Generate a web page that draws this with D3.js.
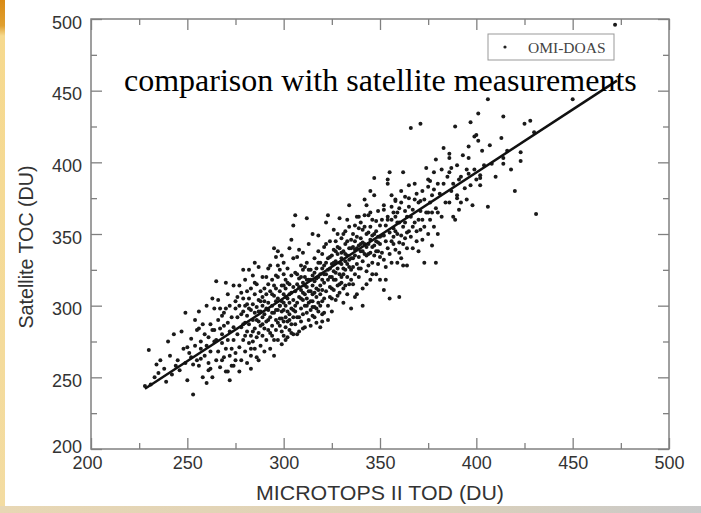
<!DOCTYPE html>
<html>
<head>
<meta charset="utf-8">
<title>Satellite vs MICROTOPS</title>
<script src="https://cdn.jsdelivr.net/npm/d3@7"></script>
<style>
  body { margin: 0; background: #fff; }
  svg { display: block; }
</style>
</head>
<body>
<svg width="701" height="513"></svg>
<script>
// tick values
const majorTicks = [200, 250, 300, 350, 400, 450, 500];
const minorTicks = [225, 275, 325, 375, 425, 475];
const legendLabel = "OMI-DOAS";
const chartTitle = "comparison with satellite measurements";
const xTitle = "MICROTOPS II TOD (DU)";
const yTitle = "Satellite TOC (DU)";

// regression line end points [TOD, TOC]
const fitLine = [[228, 242], [473, 457]];

// [MICROTOPS TOD, satellite TOC]
const points = [
  // 228-250
  [228,244],[230,269],[231,245],[233,250],[234,259],[236,262],[238,256],[240,275],[241,265],[242,252],[243,280],
  [245,262],[246,255],[247,282],[248,270],[249,295],[249,260],[250,271],[250,248],[244,258],[239,247],[235,253],
  // 250-262
  [251,267],[252,277],[253,238],[254,290],[255,262],[256,296],[256,284],[256,258],[257,275],[257,270],[258,250],
  [258,287],[259,265],[259,280],[260,272],[260,300],[261,260],[261,255],[262,287],[262,268],[253,259],[254,272],
  [255,283],[257,263],[260,246],[252,264],[261,278],[262,256],
  // 262-275
  [263,250],[263,305],[264,298],[264,275],[264,283],[265,317],[265,262],[266,268],[266,290],[267,298],[267,257],
  [268,274],[268,280],[268,262],[269,295],[269,286],[270,298],[270,270],[270,254],[271,254],[271,288],[271,276],
  [272,265],[272,300],[272,282],[273,258],[273,292],[273,270],[274,258],[274,314],[274,285],[274,276],[275,267],
  [275,298],[275,303],[275,262],[266,304],[267,284],[269,264],[270,316],[272,248],[263,283],[265,276],[268,293],
  [271,308],
  // 275-290
  [276,280],[276,292],[277,314],[277,271],[277,300],[278,309],[278,285],[278,262],[279,296],[279,276],[279,305],
  [280,288],[280,268],[280,318],[280,300],[281,282],[281,293],[281,260],[282,325],[282,305],[282,287],[282,274],
  [283,297],[283,279],[283,312],[283,265],[284,321],[284,290],[284,301],[284,282],[285,270],[285,308],[285,295],
  [285,284],[286,278],[286,315],[286,299],[286,264],[287,289],[287,304],[287,327],[287,281],[288,272],[288,296],
  [288,310],[288,286],[289,300],[289,279],[289,320],[289,292],[290,284],[290,303],[290,268],[290,312],[277,254],
  [279,325],[281,310],[283,256],[285,330],[287,262],[289,287],[276,306],[278,294],[280,279],[282,298],[284,275],
  [286,290],[288,303],[290,294],[279,287],[281,301],[283,270],[285,316],[287,296],[289,306],
  // 290-305
  [291,289],[291,308],[291,276],[291,320],[292,297],[292,283],[292,315],[292,302],[293,270],[293,292],[293,310],
  [293,328],[294,286],[294,300],[294,318],[294,279],[295,295],[295,307],[295,265],[295,340],[296,334],[296,290],
  [296,303],[296,283],[296,312],[297,338],[297,297],[297,276],[297,320],[297,305],[298,291],[298,310],[298,286],
  [298,325],[298,300],[299,282],[299,296],[299,314],[299,273],[299,303],[300,308],[300,289],[300,297],[300,322],
  [300,279],[300,330],[301,292],[301,312],[301,300],[301,285],[301,318],[302,296],[302,305],[302,278],[302,326],
  [302,289],[303,302],[303,315],[303,283],[303,294],[303,340],[304,309],[304,298],[304,346],[304,287],[304,321],
  [305,356],[305,304],[305,292],[305,313],[305,280],[305,333],[291,298],[292,326],[293,281],[294,308],[295,276],
  [296,321],[297,288],[298,300],[299,335],[300,314],[301,276],[302,316],[303,308],[304,281],[305,297],[295,314],
  [297,328],[299,291],[301,306],[303,290],[292,290],[294,295],[296,297],[300,302],
  // 305-320
  [306,363],[306,310],[306,296],[306,323],[306,287],[307,334],[307,302],[307,315],[307,292],[308,339],[308,306],
  [308,282],[308,319],[309,298],[309,328],[309,311],[309,289],[310,337],[310,304],[310,316],[310,294],[310,325],
  [311,285],[311,308],[311,300],[311,320],[312,361],[312,313],[312,295],[312,330],[312,305],[313,290],[313,318],
  [313,302],[313,343],[314,310],[314,297],[314,325],[314,286],[315,350],[315,314],[315,303],[315,321],[315,293],
  [316,309],[316,333],[316,299],[316,317],[317,306],[317,326],[317,288],[317,312],[318,349],[318,320],[318,302],
  [318,296],[318,330],[319,314],[319,308],[319,285],[319,322],[320,336],[320,303],[320,318],[320,311],[320,294],
  [306,300],[307,280],[308,313],[309,320],[310,309],[311,327],[312,318],[313,310],[314,303],[315,308],[316,323],
  [317,298],[318,311],[319,300],[320,326],[307,322],[309,305],[311,314],[313,325],[315,299],[317,319],[319,330],
  [308,292],[310,284],[312,300],[314,318],[316,292],[318,338],[320,289],
  // 320-335
  [321,341],[321,316],[321,305],[321,328],[322,343],[322,358],[322,310],[322,322],[323,363],[323,300],[323,333],
  [323,318],[324,326],[324,306],[324,345],[324,313],[325,320],[325,335],[325,296],[325,329],[326,353],[326,311],
  [326,339],[326,324],[327,318],[327,331],[327,304],[327,345],[328,350],[328,326],[328,314],[328,336],[329,361],
  [329,322],[329,309],[329,340],[330,329],[330,316],[330,347],[330,333],[331,322],[331,302],[331,338],[331,326],
  [332,343],[332,314],[332,331],[332,352],[333,360],[333,320],[333,335],[333,308],[334,370],[334,355],[334,327],
  [334,340],[335,318],[335,333],[335,346],[335,298],[321,322],[322,330],[323,325],[324,334],[325,312],[326,330],
  [327,323],[328,341],[329,330],[330,320],[331,312],[332,325],[333,329],[334,315],[335,340],[321,295],[323,290],
  [325,305],[327,338],[329,315],[331,350],[333,345],[335,325],[324,320],[326,318],[328,307],[330,337],[332,336],
  [334,332],
  // 335-350
  [336,350],[336,327],[336,341],[336,315],[337,335],[337,356],[337,322],[337,345],[338,340],[338,329],[338,362],
  [338,308],[339,354],[339,342],[339,334],[339,320],[340,347],[340,338],[340,326],[340,358],[341,331],[341,353],
  [341,312],[341,344],[342,374],[342,343],[342,363],[342,336],[343,324],[343,350],[343,335],[343,370],[344,363],
  [344,343],[344,351],[344,328],[345,380],[345,337],[345,346],[345,318],[346,349],[346,330],[346,360],[346,341],
  [347,389],[347,377],[347,342],[347,335],[348,359],[348,345],[348,322],[348,352],[349,338],[349,366],[349,329],
  [349,348],[350,343],[350,356],[350,334],[350,318],[336,333],[337,339],[338,348],[339,326],[340,343],[341,338],
  [342,355],[343,341],[344,336],[345,355],[346,322],[347,350],[348,338],[349,344],[350,348],[337,306],[339,362],
  [341,300],[343,315],[345,365],
  // 350-365
  [351,349],[351,337],[351,360],[352,370],[352,367],[352,349],[352,332],[352,311],[353,327],[353,345],[353,356],
  [354,362],[354,388],[354,385],[354,340],[354,360],[355,393],[355,305],[355,351],[355,336],[356,377],[356,360],
  [356,330],[356,345],[357,348],[357,343],[357,365],[358,374],[358,373],[358,362],[358,339],[359,358],[359,365],
  [359,350],[360,358],[360,368],[360,306],[360,344],[361,349],[361,333],[361,372],[362,343],[362,393],[362,328],
  [362,355],[363,376],[363,358],[363,347],[364,328],[364,362],[364,340],[365,375],[365,369],[365,352],[365,384],
  [366,424],[353,318],[357,354],[359,330],[361,380],[363,366],[364,351],[356,369],[358,352],[360,337],
  // 365-380
  [366,348],[366,362],[367,367],[367,355],[368,358],[368,385],[368,374],[369,345],[369,352],[370,360],[370,372],
  [370,338],[371,427],[371,353],[371,373],[371,366],[372,360],[372,346],[372,380],[373,374],[373,355],[374,396],
  [374,365],[375,388],[375,383],[375,365],[375,350],[376,387],[376,360],[376,372],[377,342],[377,377],[378,381],
  [378,355],[378,393],[379,402],[379,368],[379,330],[380,365],[380,385],[367,340],[369,378],[373,330],[377,365],
  [380,350],
  // 380-400
  [381,378],[382,395],[382,362],[383,385],[383,410],[384,372],[385,390],[386,406],[386,403],[386,393],[386,372],
  [387,396],[387,380],[388,362],[388,385],[389,425],[389,360],[390,377],[390,375],[390,398],[391,367],[391,388],
  [392,390],[392,372],[393,405],[394,382],[395,374],[395,395],[396,411],[396,403],[396,392],[397,428],[397,384],
  [398,370],[399,418],[399,395],[400,419],[400,388],
  // 400 and up
  [401,434],[401,415],[402,391],[402,389],[402,384],[403,408],[404,398],[406,444],[406,369],[407,412],[408,399],
  [410,390],[413,417],[414,403],[414,399],[414,432],[416,408],[418,395],[420,380],[423,407],[423,401],[425,427],
  [428,429],[430,421],[431,364],[450,444],[472,496]
];

const svg = d3.select("svg");

// page background bits: orange strip on the left, tan strip at the bottom
const defs = svg.append("defs");
const leftGrad = defs.append("linearGradient")
  .attr("id", "leftGrad").attr("x1", 0).attr("y1", 0).attr("x2", 0).attr("y2", 1);
leftGrad.append("stop").attr("offset", "0%").attr("stop-color", "#d98a14");
leftGrad.append("stop").attr("offset", "5%").attr("stop-color", "#e0a030");
leftGrad.append("stop").attr("offset", "7%").attr("stop-color", "#f6d98e");
leftGrad.append("stop").attr("offset", "100%").attr("stop-color", "#f3dca2");
const botGrad = defs.append("linearGradient")
  .attr("id", "botGrad").attr("x1", 0).attr("y1", 0).attr("x2", 1).attr("y2", 0);
botGrad.append("stop").attr("offset", "0%").attr("stop-color", "#e8d7b4");
botGrad.append("stop").attr("offset", "60%").attr("stop-color", "#ddd1b8");
botGrad.append("stop").attr("offset", "100%").attr("stop-color", "#c9c9c9");

svg.append("rect").attr("x", 0).attr("y", 0).attr("width", 5).attr("height", 513).attr("fill", "url(#leftGrad)");
svg.append("rect").attr("x", 0).attr("y", 506).attr("width", 701).attr("height", 7).attr("fill", "url(#botGrad)");

const x = d3.scaleLinear().domain([200, 500]).range([91, 669]);
const y = d3.scaleLinear().domain([200, 500]).range([449, 19]);

const axisColor = "#808080";
const labelColor = "#333";

// major ticks with labels, bottom and left, ticks pointing inward
const xAxis = svg.append("g")
  .attr("transform", "translate(0," + y(200) + ")")
  .call(d3.axisBottom(x).tickValues(majorTicks).tickSizeInner(-11).tickSizeOuter(0).tickPadding(7));
const yAxis = svg.append("g")
  .attr("transform", "translate(" + x(200) + ",0)")
  .call(d3.axisLeft(y).tickValues(majorTicks).tickSizeInner(-11).tickSizeOuter(0).tickPadding(9));

// unlabeled ticks on top and right, and minor ticks everywhere
svg.append("g").attr("transform", "translate(0," + y(500) + ")")
  .call(d3.axisTop(x).tickValues(majorTicks).tickSizeInner(-11).tickSizeOuter(0).tickFormat(""));
svg.append("g").attr("transform", "translate(" + x(500) + ",0)")
  .call(d3.axisRight(y).tickValues(majorTicks).tickSizeInner(-11).tickSizeOuter(0).tickFormat(""));
svg.append("g").attr("transform", "translate(0," + y(200) + ")")
  .call(d3.axisBottom(x).tickValues(minorTicks).tickSizeInner(-6).tickSizeOuter(0).tickFormat(""));
svg.append("g").attr("transform", "translate(0," + y(500) + ")")
  .call(d3.axisTop(x).tickValues(minorTicks).tickSizeInner(-6).tickSizeOuter(0).tickFormat(""));
svg.append("g").attr("transform", "translate(" + x(200) + ",0)")
  .call(d3.axisLeft(y).tickValues(minorTicks).tickSizeInner(-6).tickSizeOuter(0).tickFormat(""));
svg.append("g").attr("transform", "translate(" + x(500) + ",0)")
  .call(d3.axisRight(y).tickValues(minorTicks).tickSizeInner(-6).tickSizeOuter(0).tickFormat(""));

svg.selectAll(".domain").remove();
svg.selectAll(".tick line").attr("stroke", axisColor).attr("stroke-width", 1.3);
svg.selectAll(".tick text")
  .attr("fill", labelColor)
  .style("font-family", "'Liberation Sans', Arial, sans-serif")
  .style("font-size", "18px");
yAxis.selectAll(".tick text").attr("dy", d => d === 200 ? "0.2em" : "0.5em");
xAxis.selectAll(".tick text").attr("dx", d => d === 200 ? "-4" : "0");

// frame
svg.append("rect")
  .attr("x", x(200)).attr("y", y(500))
  .attr("width", x(500) - x(200)).attr("height", y(200) - y(500))
  .attr("fill", "none").attr("stroke", axisColor).attr("stroke-width", 1.5);

// scatter
svg.append("g").selectAll("circle")
  .data(points)
  .join("circle")
  .attr("cx", d => x(d[0]))
  .attr("cy", d => y(d[1]))
  .attr("r", 2)
  .attr("fill", "#1a1a1a");

// fit line
svg.append("path")
  .datum(fitLine)
  .attr("d", d3.line().x(d => x(d[0])).y(d => y(d[1])))
  .attr("stroke", "#111").attr("stroke-width", 2.5).attr("fill", "none");

// legend
svg.append("rect")
  .attr("x", 488).attr("y", 34).attr("width", 126).attr("height", 26)
  .attr("fill", "#fff").attr("stroke", "#999").attr("stroke-width", 1);
svg.append("circle").attr("cx", 505).attr("cy", 47).attr("r", 1.6).attr("fill", "#222");
svg.append("text")
  .text(legendLabel)
  .attr("x", 528).attr("y", 53)
  .attr("fill", "#444")
  .style("font-family", "'Liberation Serif', 'Times New Roman', serif")
  .style("font-size", "15.5px");

// axis titles
svg.append("text")
  .text(xTitle)
  .attr("x", 380).attr("y", 500)
  .attr("text-anchor", "middle")
  .attr("textLength", 248)
  .attr("lengthAdjust", "spacingAndGlyphs")
  .attr("fill", labelColor)
  .style("font-family", "'Liberation Sans', Arial, sans-serif")
  .style("font-size", "20px");
svg.append("text")
  .text(yTitle)
  .attr("transform", "translate(26,247) rotate(-90)")
  .attr("text-anchor", "middle")
  .attr("dy", "0.35em")
  .attr("textLength", 163)
  .attr("lengthAdjust", "spacingAndGlyphs")
  .attr("fill", labelColor)
  .style("font-family", "'Liberation Sans', Arial, sans-serif")
  .style("font-size", "19.5px");

// title laid over the plot
svg.append("text")
  .text(chartTitle)
  .attr("x", 124).attr("y", 91)
  .attr("fill", "#000")
  .style("font-family", "'Liberation Serif', 'Times New Roman', serif")
  .style("font-size", "32px");
</script>
</body>
</html>
